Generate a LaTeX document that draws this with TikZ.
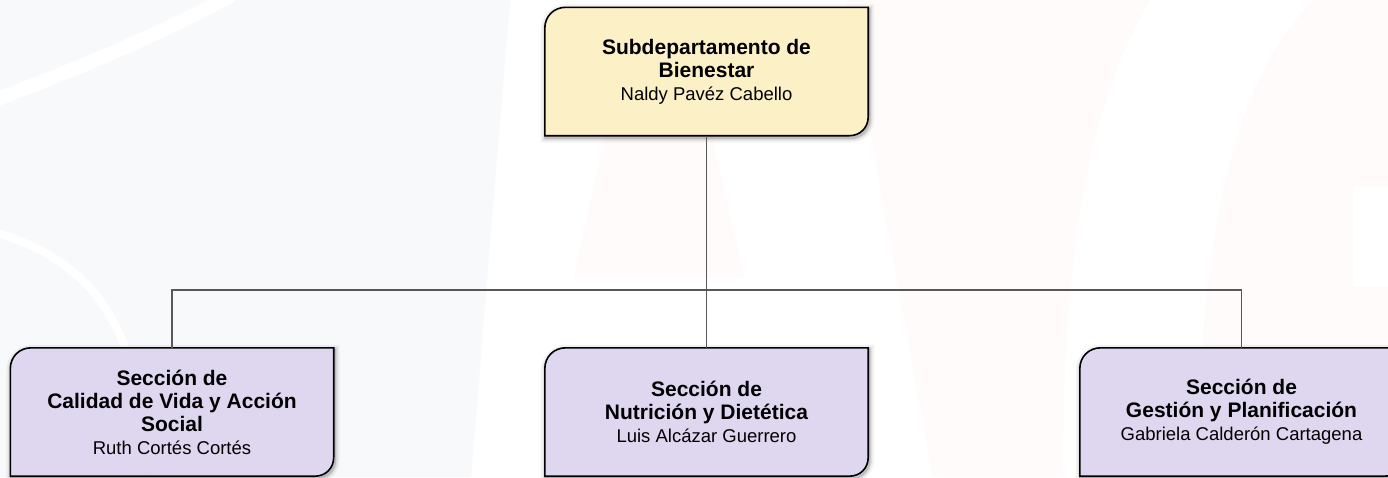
\documentclass[tikz,border=0pt]{standalone}
\usepackage{fontspec}
\setmainfont{Liberation Sans}
\usetikzlibrary{calc}
\definecolor{cream}{RGB}{252,240,199}
\definecolor{lav}{RGB}{223,215,240}
\definecolor{wmblue}{RGB}{248,249,251}
\definecolor{wmpink}{RGB}{254,251,250}
\definecolor{linegray}{RGB}{88,88,88}
\pgfdeclarelayer{wm}
\pgfdeclarelayer{bg}
\pgfsetlayers{wm,bg,main}
\newcommand\hd[1]{{\fontsize{21}{25}\selectfont\bfseries #1}}
\newcommand\orgshape[2]{%
  \draw[boxline, fill=#2]
    ($(#1.north west)+(0,21)$) .. controls ($(#1.north west)+(0,9)$) and ($(#1.north west)+(9,0)$) .. ($(#1.north west)+(21,0)$)
    -- (#1.north east)
    -- ($(#1.south east)+(0,-19)$) .. controls ($(#1.south east)+(0,-8)$) and ($(#1.south east)+(-8,0)$) .. ($(#1.south east)+(-19,0)$)
    -- (#1.south west) -- cycle;}
\tikzset{
  orgnode/.style={minimum width=323pt, minimum height=128pt, inner sep=0pt, align=center,
    font=\fontsize{18.5}{23}\selectfont, text=black},
  boxline/.style={draw=black, line width=1.6pt,
    preaction={draw=black, opacity=0.05, line width=10pt, transform canvas={xshift=1pt,yshift=-2pt}},
    preaction={draw=black, opacity=0.08, line width=6pt, transform canvas={xshift=1pt,yshift=-2pt}},
    preaction={draw=black, opacity=0.14, line width=3pt, transform canvas={xshift=1pt,yshift=-2pt}}},
  conn/.style={draw=linegray, line width=1.4pt}
}
\begin{document}
\begin{tikzpicture}[x=1pt,y=-1pt]
\useasboundingbox (0,0) rectangle (1388,477);
\clip (0,0) rectangle (1388,477);
% faint watermark
\begin{pgfonlayer}{wm}
  \fill[white] (0,0) rectangle (1388,477);
  \fill[wmblue] (0,0) -- (510,0) -- (471,477) -- (0,477) -- cycle;
  \draw[white, line width=14pt] (232,-5) .. controls (150,40) and (60,75) .. (-5,100);
  \draw[white, line width=8pt] (-5,232) .. controls (90,262) and (143,320) .. (146,482);
  \fill[wmpink] (846,0) -- (1150,0) .. controls (1090,100) and (1062,250) .. (1063,477) -- (933,477) -- cycle;
  \fill[wmpink] (1315,0) -- (1388,0) -- (1388,477) -- (1197,477) .. controls (1200,250) and (1230,80) .. (1315,0) -- cycle;
  \fill[white] (1353,187) rectangle (1390,287);
  \fill[wmpink] (574,277) -- (744,277) -- (712,137) -- (605,137) -- cycle;
\end{pgfonlayer}
% nodes
\node[orgnode] (top) at (706.5,71.5) {\hd{Subdepartamento de}\\\hd{Bienestar}\\Naldy Pavéz Cabello};
\node[orgnode] (left) at (172,412) {\hd{Sección de}\\\hd{Calidad de Vida y Acción}\\\hd{Social}\\Ruth Cortés Cortés};
\node[orgnode] (mid) at (706.5,412) {\hd{Sección de}\\\hd{Nutrición y Dietética}\\Luis Alcázar Guerrero};
\node[orgnode] (right) at (1241.5,412) {\hd{Sección de}\\\hd{Gestión y Planificación}\\Gabriela Calderón Cartagena};
\coordinate (bus) at (706.5,290);
\begin{pgfonlayer}{bg}
  \orgshape{top}{cream}
  \orgshape{left}{lav}
  \orgshape{mid}{lav}
  \orgshape{right}{lav}
\end{pgfonlayer}
\draw[conn] (top.south) -- (mid.north);
\draw[conn] (bus) -| (left.north);
\draw[conn] (bus) -| (right.north);
\end{tikzpicture}
\end{document}
